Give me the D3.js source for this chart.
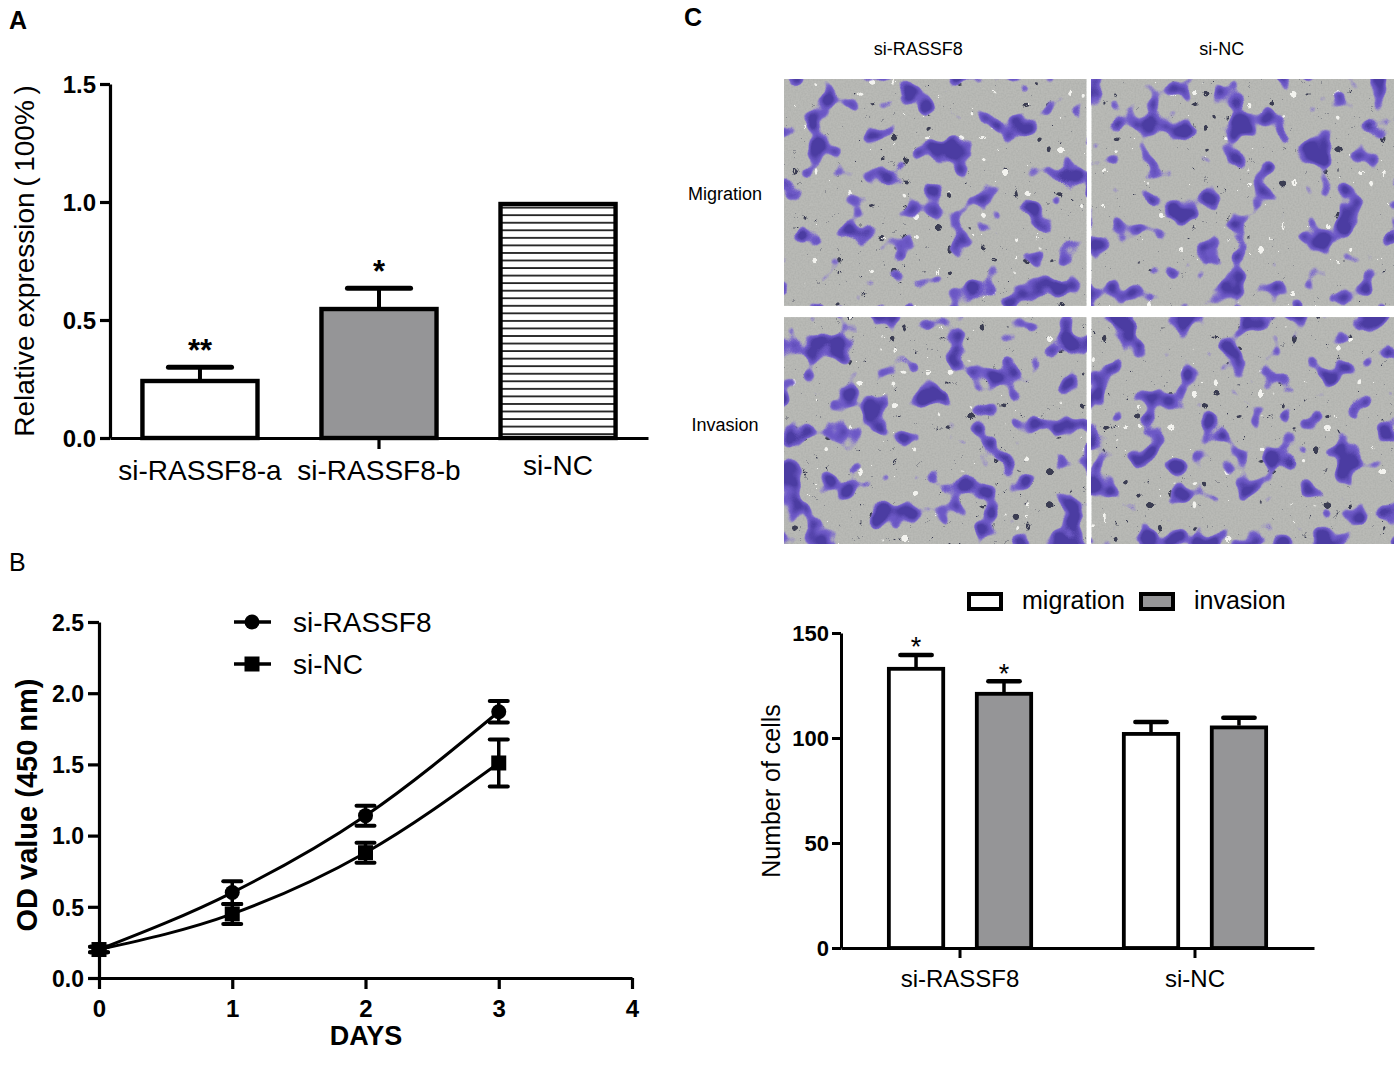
<!DOCTYPE html>
<html><head><meta charset="utf-8">
<script src="https://cdn.jsdelivr.net/npm/d3@7"></script>
<style>
body{margin:0;background:#fff}
svg{display:block}
text{font-family:"Liberation Sans",Arial,Helvetica,sans-serif;fill:#000}
</style>
</head><body>
<svg id="fig" width="1399" height="1071"></svg>
<script>
// ---------------- DATA ----------------
const A_categories = ["si-RASSF8-a", "si-RASSF8-b", "si-NC"];
const A_values = [0.25, 0.555, 1.0];
const A_errors = [0.05, 0.08, 0];
const A_stars = ["**", "*", ""];
const A_yTicks = [0, 0.5, 1.0, 1.5];

const B_days = [0, 1, 2, 3];
const B_xTicks = [0, 1, 2, 3, 4];
const B_yTicks = [0, 0.5, 1.0, 1.5, 2.0, 2.5];
const B_series = ["si-RASSF8", "si-NC"];
const B_rassf8 = [0.20, 0.60, 1.14, 1.87];
const B_rassf8Err = [0.02, 0.08, 0.07, 0.075];
const B_nc = [0.20, 0.45, 0.88, 1.51];
const B_ncErr = [0.02, 0.07, 0.07, 0.165];

const C_groups = ["si-RASSF8", "si-NC"];
const C_series = ["migration", "invasion"];
const C_migration = [133.8, 102.8];
const C_migrationErr = [5.7, 4.8];
const C_invasion = [121.9, 105.9];
const C_invasionErr = [5.1, 3.8];
const C_stars = [["*", "*"], ["", ""]];
const C_yTicks = [0, 50, 100, 150];
const C_imgCols = ["si-RASSF8", "si-NC"];
const C_imgRows = ["Migration", "Invasion"];

// ---------------- SETUP ----------------
const svg = d3.select("#fig");
svg.append("rect").attr("width", 1399).attr("height", 1071).attr("fill", "#fff");
const defs = svg.append("defs");
const FONT = '"Liberation Sans", Arial, Helvetica, sans-serif';
const GRAY = "#959597";

// stripe pattern
const pat = defs.append("pattern").attr("id", "stripes")
  .attr("patternUnits", "userSpaceOnUse").attr("width", 20).attr("height", 7.55);
pat.append("rect").attr("width", 20).attr("height", 7.55).attr("fill", "#fff");
pat.append("line").attr("x1", 0).attr("x2", 20).attr("y1", 3.8).attr("y2", 3.8)
  .attr("stroke", "#111").attr("stroke-width", 1.7);

function styleAxis(g, sw, fontSize, weight) {
  g.attr("font-family", FONT).attr("font-size", fontSize).attr("font-weight", weight);
  g.selectAll(".domain, .tick line").attr("stroke", "#000").attr("stroke-width", sw);
  g.selectAll(".tick text").attr("fill", "#000");
}

// panel letters
svg.append("text").attr("x", 9).attr("y", 29).attr("font-size", 25).attr("font-weight", "bold").text("A");
svg.append("text").attr("x", 9).attr("y", 571).attr("font-size", 25).text("B");
svg.append("text").attr("x", 684).attr("y", 26).attr("font-size", 25).attr("font-weight", "bold").text("C");

// ---------------- PANEL A ----------------
{
  const x = d3.scaleBand().domain(A_categories).range([110, 648]).paddingInner(0.335).paddingOuter(0.17);
  const y = d3.scaleLinear().domain([0, 1.5]).range([438, 84]);
  const g = svg.append("g");

  const fills = [ "#fff", GRAY, "url(#stripes)" ];
  const bw = x.bandwidth();
  g.selectAll("rect.bar").data(A_categories).join("rect").attr("class", "bar")
    .attr("x", d => x(d) + 2).attr("width", bw - 4)
    .attr("y", (d, i) => y(A_values[i]) + 2).attr("height", (d, i) => y(0) - y(A_values[i]) - 2)
    .attr("fill", (d, i) => fills[i]).attr("stroke", "#000").attr("stroke-width", 4.4);

  A_categories.forEach((c, i) => {
    if (!A_errors[i]) return;
    const cx = x(c) + bw / 2, cw = bw * 0.53;
    g.append("line").attr("x1", cx).attr("x2", cx).attr("y1", y(A_values[i])).attr("y2", y(A_values[i] + A_errors[i]))
      .attr("stroke", "#000").attr("stroke-width", 4);
    g.append("line").attr("x1", cx - cw / 2).attr("x2", cx + cw / 2)
      .attr("y1", y(A_values[i] + A_errors[i])).attr("y2", y(A_values[i] + A_errors[i]))
      .attr("stroke", "#000").attr("stroke-width", 5).attr("stroke-linecap", "round");
    g.append("text").attr("x", cx).attr("y", y(A_values[i] + A_errors[i]) - 6)
      .attr("text-anchor", "middle").attr("font-size", 31).attr("font-weight", "bold").text(A_stars[i]);
  });

  const ya = g.append("g").attr("transform", "translate(110,0)")
    .call(d3.axisLeft(y).tickValues(A_yTicks).tickFormat(d3.format(".1f")).tickSize(10).tickPadding(4).tickSizeOuter(0));
  styleAxis(ya, 3.2, 24, "bold");
  ya.selectAll(".tick text").attr("dy", "0.36em");

  const xa = g.append("g").attr("transform", "translate(0,438)")
    .call(d3.axisBottom(x).tickValues([A_categories[1]]).tickFormat("").tickSize(11).tickSizeOuter(0));
  styleAxis(xa, 3.2, 24, "normal");

  g.selectAll("text.cat").data(A_categories).join("text").attr("class", "cat")
    .attr("x", d => x(d) + bw / 2).attr("y", (d, i) => i === 2 ? 475 : 480)
    .attr("text-anchor", "middle").attr("font-size", 28).text(d => d);

  g.append("text").attr("transform", "translate(34,261) rotate(-90)")
    .attr("text-anchor", "middle").attr("font-size", 28).text("Relative expression\u2009(\u2009100%\u2009)");
}

// ---------------- PANEL B ----------------
{
  const x = d3.scaleLinear().domain([0, 4]).range([99, 632]);
  const y = d3.scaleLinear().domain([0, 2.5]).range([978, 622]);
  const g = svg.append("g");

  const ya = g.append("g").attr("transform", "translate(99,0)")
    .call(d3.axisLeft(y).tickValues(B_yTicks).tickFormat(d3.format(".1f")).tickSize(11).tickPadding(4).tickSizeOuter(0));
  styleAxis(ya, 3.2, 23, "bold");
  ya.selectAll(".tick text").attr("dy", "0.36em");

  const xa = g.append("g").attr("transform", "translate(0,978)")
    .call(d3.axisBottom(x).tickValues(B_xTicks).tickFormat(d3.format("d")).tickSize(11).tickPadding(11).tickSizeOuter(0));
  styleAxis(xa, 3.2, 24, "bold");

  const seriesData = [
    { name: B_series[0], v: B_rassf8, e: B_rassf8Err, shape: "circle" },
    { name: B_series[1], v: B_nc, e: B_ncErr, shape: "square" }
  ];
  const line = d3.line().x(d => x(d[0])).y(d => y(d[1])).curve(d3.curveMonotoneX);

  seriesData.forEach(s => {
    const pts = B_days.map((d, i) => [d, s.v[i]]);
    g.append("path").attr("d", line(pts)).attr("fill", "none").attr("stroke", "#000").attr("stroke-width", 3);
  });
  seriesData.forEach(s => {
    B_days.forEach((d, i) => {
      const cx = x(d), lo = y(s.v[i] - s.e[i]), hi = y(s.v[i] + s.e[i]);
      g.append("line").attr("x1", cx).attr("x2", cx).attr("y1", lo).attr("y2", hi).attr("stroke", "#000").attr("stroke-width", 3.5);
      [lo, hi].forEach(yy => g.append("line").attr("x1", cx - 9).attr("x2", cx + 9).attr("y1", yy).attr("y2", yy)
        .attr("stroke", "#000").attr("stroke-width", 4).attr("stroke-linecap", "round"));
      if (s.shape === "circle") g.append("circle").attr("cx", cx).attr("cy", y(s.v[i])).attr("r", 7.5).attr("fill", "#000");
      else g.append("rect").attr("x", cx - 7.5).attr("y", y(s.v[i]) - 7.5).attr("width", 15).attr("height", 15).attr("fill", "#000");
    });
  });

  seriesData.forEach((s, i) => {
    const ly = 622 + i * 42;
    g.append("line").attr("x1", 234).attr("x2", 271).attr("y1", ly).attr("y2", ly).attr("stroke", "#000").attr("stroke-width", 3.5);
    if (s.shape === "circle") g.append("circle").attr("cx", 252).attr("cy", ly).attr("r", 7.5).attr("fill", "#000");
    else g.append("rect").attr("x", 244.5).attr("y", ly - 7.5).attr("width", 15).attr("height", 15).attr("fill", "#000");
    g.append("text").attr("x", 293).attr("y", ly + 10).attr("font-size", 28).text(s.name);
  });

  g.append("text").attr("transform", "translate(37,805) rotate(-90)")
    .attr("text-anchor", "middle").attr("font-size", 29).attr("font-weight", "bold").text("OD value (450 nm)");
  g.append("text").attr("x", 366).attr("y", 1045).attr("text-anchor", "middle")
    .attr("font-size", 27).attr("font-weight", "bold").text("DAYS");
}

// ---------------- PANEL C images (stained-cell texture) ----------------
{
  const cx = d3.scaleBand().domain(C_imgCols).range([784, 1394]).paddingInner(0.0165);
  const ry = d3.scaleBand().domain(C_imgRows).range([79, 544]).paddingInner(0.047);
  const g = svg.append("g");
  let k = 0;
  function mask(f, src, slope, icpt, color, op, name) {
    const t = f.append("feComponentTransfer").attr("in", src).attr("result", name + "A");
    t.append("feFuncA").attr("type", "linear").attr("slope", slope).attr("intercept", icpt);
    f.append("feFlood").attr("flood-color", color).attr("flood-opacity", op).attr("result", name + "F");
    f.append("feComposite").attr("in", name + "F").attr("in2", name + "A").attr("operator", "in").attr("result", name);
  }
  const alphaFromR = "0 0 0 0 0  0 0 0 0 0  0 0 0 0 0  1 0 0 0 0";
  C_imgRows.forEach(r => {
    C_imgCols.forEach(c => {
      k++;
      const X = cx(c), Y = ry(r), W = cx.bandwidth(), H = ry.bandwidth();
      const f = defs.append("filter").attr("id", "cells" + k)
        .attr("filterUnits", "userSpaceOnUse").attr("x", X).attr("y", Y).attr("width", W).attr("height", H)
        .attr("color-interpolation-filters", "sRGB");
      f.append("feTurbulence").attr("type", "fractalNoise").attr("baseFrequency", 0.036).attr("numOctaves", 2)
        .attr("seed", 7 + k * 13).attr("result", "n");
      f.append("feColorMatrix").attr("in", "n").attr("type", "matrix").attr("values", alphaFromR).attr("result", "r");
      mask(f, "r", 20, -11.3, "#8d7dcf", 1, "halo");
      mask(f, "r", 22, -12.9, "#6c58c5", 1, "cell");
      mask(f, "r", 14, -9.0, "#45379b", 0.85, "nuc");
      // round dark / white beads
      f.append("feTurbulence").attr("type", "turbulence").attr("baseFrequency", 0.09).attr("numOctaves", 1)
        .attr("seed", 3 + k * 5).attr("result", "n2");
      f.append("feColorMatrix").attr("in", "n2").attr("type", "matrix").attr("values", alphaFromR).attr("result", "r2");
      mask(f, "r2", 30, -14.7, "#3b3d52", 1, "dots");
      f.append("feTurbulence").attr("type", "turbulence").attr("baseFrequency", 0.09).attr("numOctaves", 1)
        .attr("seed", 40 + k * 7).attr("result", "n4");
      f.append("feColorMatrix").attr("in", "n4").attr("type", "matrix").attr("values", alphaFromR).attr("result", "r4");
      mask(f, "r4", 30, -15.0, "#f3f3ef", 1, "wdots");
      // fine grain
      f.append("feTurbulence").attr("type", "fractalNoise").attr("baseFrequency", 0.6).attr("numOctaves", 1)
        .attr("seed", 11 + k).attr("result", "n3");
      f.append("feColorMatrix").attr("in", "n3").attr("type", "matrix")
        .attr("values", "0 0 0 0 0.56  0 0 0 0 0.57  0 0 0 0 0.56  0.5 0 0 0 -0.18").attr("result", "grain");
      const m = f.append("feMerge");
      ["SourceGraphic", "grain", "dots", "wdots", "halo", "cell", "nuc"].forEach(n => m.append("feMergeNode").attr("in", n));

      g.append("rect").attr("x", X).attr("y", Y).attr("width", W).attr("height", H)
        .attr("fill", "#b9bab6").attr("filter", "url(#cells" + k + ")");
    });
  });
  const colLabelShift = [-17, -21];
  g.selectAll("text.col").data(C_imgCols).join("text").attr("class", "col")
    .attr("x", (d, i) => cx(d) + cx.bandwidth() / 2 + colLabelShift[i]).attr("y", 55)
    .attr("text-anchor", "middle").attr("font-size", 18).text(d => d);
  g.selectAll("text.row").data(C_imgRows).join("text").attr("class", "row")
    .attr("x", 725).attr("y", d => ry(d) + ry.bandwidth() / 2 + (d === C_imgRows[0] ? 8 : 0))
    .attr("text-anchor", "middle").attr("font-size", 18).text(d => d);
}

// ---------------- PANEL C chart ----------------
{
  const x0 = d3.scaleBand().domain(C_groups).range([841, 1314]).paddingInner(0.379).paddingOuter(0.196);
  const x1 = d3.scaleBand().domain(C_series).range([0, x0.bandwidth()]).paddingInner(0.341);
  const y = d3.scaleLinear().domain([0, 150]).range([948, 633]);
  const g = svg.append("g");
  const vals = [C_migration, C_invasion], errs = [C_migrationErr, C_invasionErr];
  const fills = ["#fff", GRAY];
  const bw = x1.bandwidth();

  C_groups.forEach((grp, gi) => {
    C_series.forEach((s, si) => {
      const v = vals[si][gi], e = errs[si][gi];
      const bx = x0(grp) + x1(s), cxm = bx + bw / 2;
      g.append("line").attr("x1", cxm).attr("x2", cxm).attr("y1", y(v)).attr("y2", y(v + e))
        .attr("stroke", "#000").attr("stroke-width", 3.5);
      g.append("line").attr("x1", cxm - bw * 0.27).attr("x2", cxm + bw * 0.27).attr("y1", y(v + e)).attr("y2", y(v + e))
        .attr("stroke", "#000").attr("stroke-width", 4.5).attr("stroke-linecap", "round");
      g.append("rect").attr("x", bx + 1.8).attr("y", y(v) + 1.8).attr("width", bw - 3.6).attr("height", y(0) - y(v) - 1.8)
        .attr("fill", fills[si]).attr("stroke", "#000").attr("stroke-width", 3.8);
      if (C_stars[gi][si]) g.append("text").attr("x", cxm).attr("y", y(v + e)).attr("dy", "0.05em")
        .attr("text-anchor", "middle").attr("font-size", 27).text(C_stars[gi][si]);
    });
  });

  const ya = g.append("g").attr("transform", "translate(841,0)")
    .call(d3.axisLeft(y).tickValues(C_yTicks).tickFormat(d3.format("d")).tickSize(9).tickPadding(3).tickSizeOuter(0));
  styleAxis(ya, 3, 22, "bold");
  ya.selectAll(".tick text").attr("dy", "0.36em");

  const xa = g.append("g").attr("transform", "translate(0,948)")
    .call(d3.axisBottom(x0).tickValues(C_groups).tickFormat(d => d).tickSize(10).tickPadding(12).tickSizeOuter(0));
  styleAxis(xa, 3, 24, "normal");

  g.append("text").attr("transform", "translate(780,791) rotate(-90)")
    .attr("text-anchor", "middle").attr("font-size", 25).text("Number of cells");

  const lx = [967, 1139];
  C_series.forEach((s, i) => {
    g.append("rect").attr("x", lx[i] + 2).attr("y", 594).attr("width", 32).attr("height", 15)
      .attr("fill", fills[i]).attr("stroke", "#000").attr("stroke-width", 4);
    g.append("text").attr("x", lx[i] + 55).attr("y", 609).attr("font-size", 25).text(s);
  });
}
</script>
</body></html>
